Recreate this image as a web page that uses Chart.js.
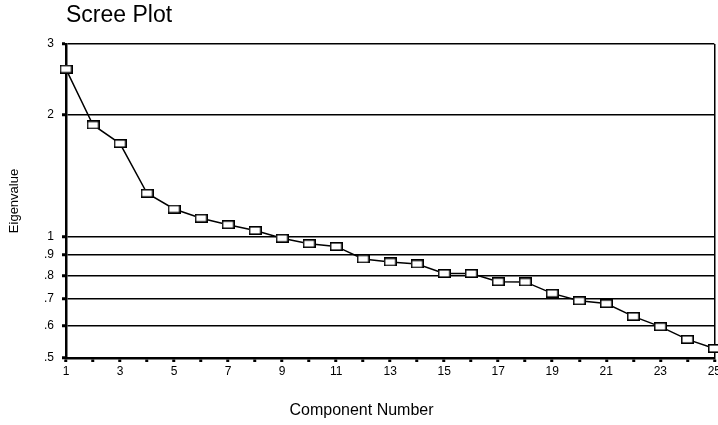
<!DOCTYPE html>
<html>
<head>
<meta charset="utf-8">
<script src="https://cdn.jsdelivr.net/npm/chart.js@4"></script>
<style>
html,body{margin:0;padding:0;background:#fff;overflow:hidden;}
#wrap{position:relative;width:723px;height:425px;}
</style>
</head>
<body>
<div id="wrap"><canvas id="c"></canvas></div>
<script>
const components = [1,2,3,4,5,6,7,8,9,10,11,12,13,14,15,16,17,18,19,20,21,22,23,24,25];
const eigenvalues = [2.60,1.89,1.70,1.28,1.17,1.11,1.07,1.035,0.99,0.96,0.945,0.88,0.865,0.855,0.81,0.81,0.773,0.772,0.723,0.693,0.682,0.634,0.598,0.556,0.528];
const yTickValues = [0.5,0.6,0.7,0.8,0.9,1,2,3];
const yTickLabels = ['.5','.6','.7','.8','.9','1','2','3'];
const FONT = 'Liberation Sans, Arial, sans-serif';

// hollow rectangular marker
const marker = document.createElement('canvas');
marker.width = 13; marker.height = 9;
(function(){
  const m = marker.getContext('2d');
  m.fillStyle = '#fff';
  m.fillRect(0, 0, 13, 9);
  m.strokeStyle = '#000';
  m.lineWidth = 1.6;
  m.strokeRect(0.8, 0.8, 11.4, 7.4);
})();

new Chart(document.getElementById('c'), {
  type: 'line',
  data: {
    datasets: [{
      data: components.map((c, i) => ({x: c, y: eigenvalues[i]})),
      borderColor: '#000',
      borderWidth: 1.5,
      pointStyle: marker,
      pointRadius: 6,
      tension: 0,
      clip: 8
    }]
  },
  options: {
    responsive: true,
    maintainAspectRatio: false,
    animation: false,
    events: [],
    layout: {padding: 0},
    plugins: {
      legend: {display: false},
      tooltip: {enabled: false},
      title: {
        display: true,
        text: 'Scree Plot',
        align: 'start',
        fullSize: false,
        color: '#000',
        font: {family: FONT, size: 23, weight: 'normal'},
        padding: {top: 2, bottom: 14.4}
      },
      subtitle: {
        display: true,
        position: 'bottom',
        text: 'Component Number',
        color: '#000',
        font: {family: FONT, size: 16, weight: 'normal'},
        padding: {top: 4, bottom: 5}
      }
    },
    scales: {
      x: {
        type: 'linear',
        min: 1, max: 25,
        ticks: {
          stepSize: 1,
          autoSkip: false,
          maxRotation: 0,
          color: '#000',
          font: {family: FONT, size: 12},
          padding: 2,
          callback: (v) => (v % 2 === 1 ? String(v) : '')
        },
        grid: {
          drawOnChartArea: true,
          color: (ctx) => (ctx.tick && ctx.tick.value === 25 ? '#000' : 'rgba(0,0,0,0)'),
          lineWidth: 1.5,
          tickColor: '#000',
          tickLength: 4,
          tickWidth: 3
        },
        border: {color: '#000', width: 2.5},
        afterFit: (s) => { s.height = 38.8; }
      },
      y: {
        type: 'logarithmic',
        min: 0.5, max: 3,
        afterBuildTicks: (s) => { s.ticks = yTickValues.map(v => ({value: v})); },
        ticks: {
          color: '#000',
          font: {family: FONT, size: 12},
          padding: 8,
          autoSkip: false,
          callback: (v) => { const i = yTickValues.indexOf(v); return i >= 0 ? yTickLabels[i] : ''; }
        },
        grid: {
          color: '#000',
          lineWidth: 1.5,
          tickColor: '#000',
          tickLength: 4,
          tickWidth: 3
        },
        border: {color: '#000', width: 2.5},
        title: {
          display: true,
          text: 'Eigenvalue',
          color: '#000',
          font: {family: FONT, size: 13},
          padding: {top: 7, bottom: 0}
        },
        afterFit: (s) => { s.width = 66; }
      }
    }
  }
});
</script>
</body>
</html>
